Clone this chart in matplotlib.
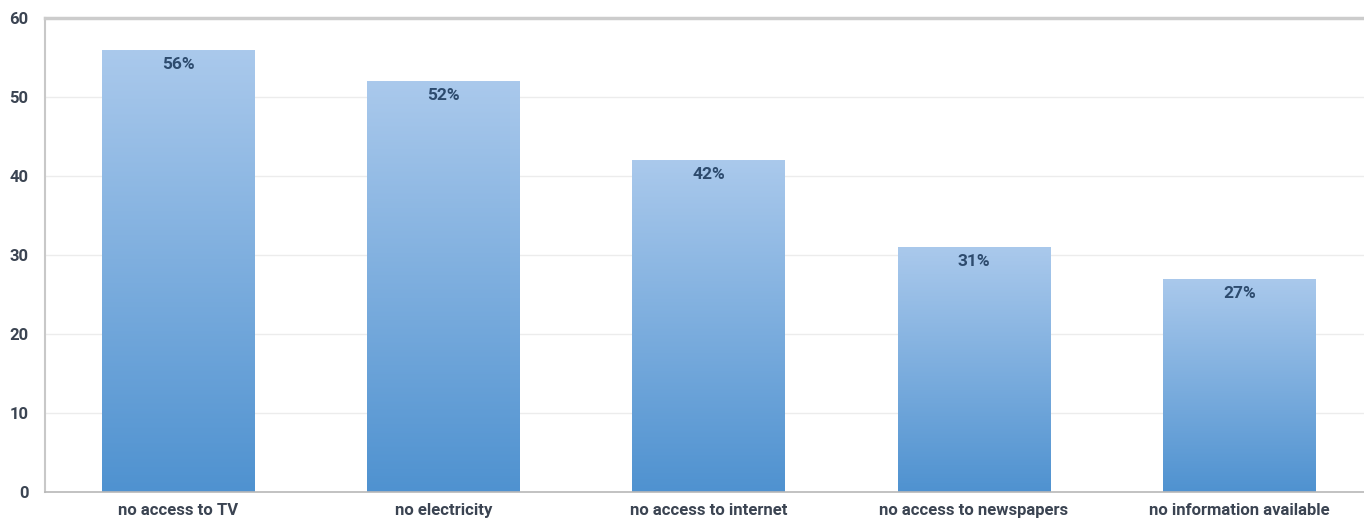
import matplotlib.pyplot as plt
import numpy as np
from matplotlib.colors import LinearSegmentedColormap

categories = ["no access to TV", "no electricity", "no access to internet",
              "no access to newspapers", "no information available"]
values = [56, 52, 42, 31, 27]
yticks = [0, 10, 20, 30, 40, 50, 60]

plt.rcParams["font.family"] = ["Roboto", "DejaVu Sans"]

fig = plt.figure(figsize=(13.64, 5.22), dpi=100)
ax = fig.add_axes([0.033, 0.058, 0.967, 0.907])

x = np.arange(len(categories))
width = 0.576
cmap = LinearSegmentedColormap.from_list("bar", ["#4f92d0", "#aac9ec"])
grad = np.linspace(0, 1, 256).reshape(-1, 1)

# plain bars as clip shapes, filled with a vertical gradient
bars = ax.bar(x, values, width=width, color="none", zorder=2)
for rect, v in zip(bars, values):
    x0 = rect.get_x()
    im = ax.imshow(grad, cmap=cmap, origin="lower", aspect="auto",
                   extent=[x0, x0 + rect.get_width(), 0, v], zorder=2)
    im.set_clip_path(rect)
    ax.text(rect.get_x() + rect.get_width() / 2, v - 0.9, f"{v}%",
            ha="center", va="top", fontsize=12.5, fontweight="bold",
            color="#2d4b6e", zorder=3)

ax.set_xlim(-0.502, 4.47)
ax.set_ylim(0, 60)
ax.set_yticks(yticks)
ax.set_yticklabels([str(t) for t in yticks])
ax.set_xticks(x)
ax.set_xticklabels(categories)
ax.tick_params(axis="both", length=0, labelsize=12, colors="#3b4452")
ax.tick_params(axis="y", pad=12)
ax.tick_params(axis="x", pad=8)
for lbl in ax.get_xticklabels() + ax.get_yticklabels():
    lbl.set_fontweight("bold")

ax.grid(axis="y", color="#ececec", linewidth=1, zorder=0)
ax.set_axisbelow(True)
ax.spines["right"].set_visible(False)
ax.spines["top"].set_color("#cccccc")
ax.spines["top"].set_linewidth(2.5)
ax.spines["left"].set_color("#c8c8c8")
ax.spines["left"].set_linewidth(1.5)
ax.spines["bottom"].set_color("#b8b8b8")
ax.spines["bottom"].set_linewidth(1.2)

fig.savefig("out.png", dpi=100)
